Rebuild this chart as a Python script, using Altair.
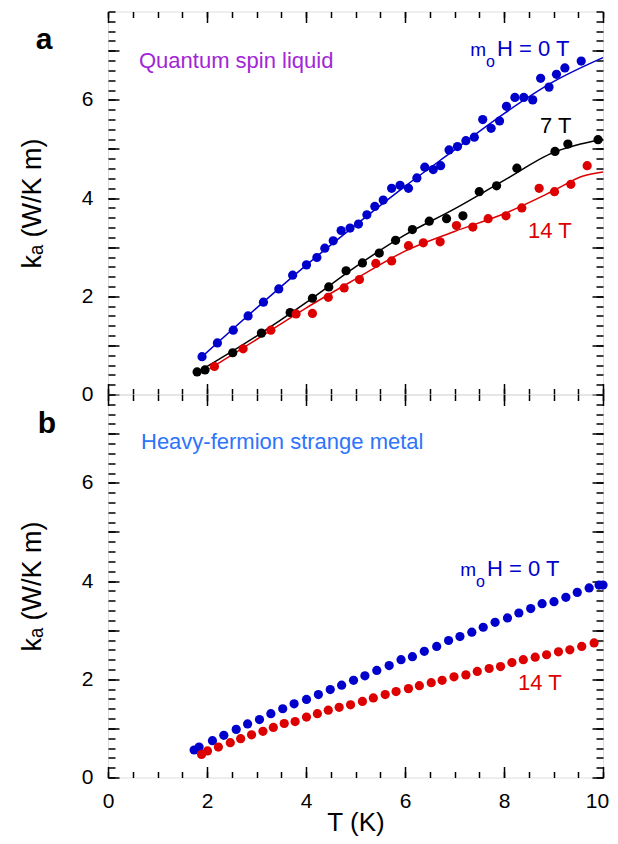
import altair as alt
import pandas as pd

# ---------------- data ----------------
# panel a : quantum spin liquid
QSL_T_0 = [1.90, 2.21, 2.53, 2.83, 3.14, 3.45, 3.73, 4.01, 4.22, 4.38, 4.55, 4.71, 4.89, 5.06, 5.23,
           5.39, 5.56, 5.73, 5.90, 6.07, 6.24, 6.40, 6.57, 6.72, 6.89, 7.06, 7.23, 7.40, 7.57, 7.74,
           7.91, 8.05, 8.22, 8.40, 8.58, 8.74, 8.91, 9.06, 9.23, 9.56]
QSL_K_0 = [0.77, 1.05, 1.31, 1.60, 1.88, 2.15, 2.43, 2.64, 2.79, 2.98, 3.13, 3.34, 3.39, 3.47, 3.66,
           3.83, 3.96, 4.20, 4.26, 4.20, 4.41, 4.63, 4.58, 4.66, 4.98, 5.05, 5.17, 5.24, 5.60, 5.42,
           5.57, 5.87, 6.05, 6.05, 6.00, 6.44, 6.26, 6.52, 6.65, 6.79]
QSL_T_7 = [1.80, 1.96, 2.52, 3.10, 3.68, 4.13, 4.46, 4.81, 5.14, 5.48, 5.81, 6.15, 6.49, 6.84, 7.17,
           7.50, 7.85, 8.26, 9.03, 9.29, 9.90]
QSL_K_7 = [0.46, 0.50, 0.85, 1.25, 1.67, 1.96, 2.19, 2.52, 2.68, 2.88, 3.14, 3.36, 3.53, 3.58, 3.64,
           4.13, 4.25, 4.61, 4.95, 5.10, 5.19]
QSL_T_14 = [2.15, 2.73, 3.29, 3.80, 4.13, 4.45, 4.77, 5.08, 5.41, 5.73, 6.07, 6.37, 6.71, 7.04, 7.37,
            7.68, 8.04, 8.36, 8.71, 9.02, 9.35, 9.68]
QSL_K_14 = [0.57, 0.93, 1.31, 1.64, 1.65, 1.98, 2.17, 2.34, 2.67, 2.72, 3.03, 3.09, 3.11, 3.44, 3.41,
            3.58, 3.64, 3.80, 4.20, 4.13, 4.28, 4.66]
# fitted curves
FIT_T_0 = [1.9, 3, 4, 5, 6, 7, 8, 9, 10]
FIT_K_0 = [0.77, 1.76, 2.63, 3.45, 4.24, 4.98, 5.72, 6.37, 6.86]
FIT_T_7 = [1.8, 3, 4, 5, 6, 7, 8, 9, 10]
FIT_K_7 = [0.45, 1.19, 1.87, 2.60, 3.25, 3.78, 4.36, 4.93, 5.20]
FIT_T_14 = [2.05, 3, 4, 5, 6, 7, 8, 9, 9.6, 10]
FIT_K_14 = [0.52, 1.12, 1.76, 2.35, 2.92, 3.32, 3.68, 4.15, 4.45, 4.53]

# panel b : heavy-fermion strange metal
HF_T_0 = [1.74, 1.84, 2.11, 2.34, 2.59, 2.82, 3.06, 3.29, 3.53, 3.76, 4.01, 4.25, 4.49, 4.72, 4.96,
          5.19, 5.43, 5.68, 5.92, 6.15, 6.39, 6.64, 6.88, 7.11, 7.35, 7.58, 7.82, 8.07, 8.30, 8.54,
          8.77, 9.01, 9.25, 9.48, 9.72, 9.92, 10.0]
HF_K_0 = [0.56, 0.62, 0.75, 0.86, 0.98, 1.09, 1.18, 1.30, 1.40, 1.50, 1.59, 1.69, 1.79, 1.88, 1.98,
          2.07, 2.18, 2.28, 2.40, 2.46, 2.57, 2.67, 2.79, 2.87, 2.96, 3.06, 3.16, 3.25, 3.35, 3.44,
          3.54, 3.58, 3.67, 3.77, 3.86, 3.92, 3.92]
HF_T_14 = [1.89, 2.01, 2.23, 2.47, 2.68, 2.90, 3.13, 3.34, 3.56, 3.78, 4.01, 4.23, 4.45, 4.67, 4.90,
           5.14, 5.36, 5.60, 5.82, 6.07, 6.29, 6.53, 6.75, 6.99, 7.23, 7.46, 7.70, 7.93, 8.16, 8.39,
           8.63, 8.86, 9.10, 9.33, 9.57, 9.82]
HF_K_14 = [0.47, 0.54, 0.62, 0.71, 0.79, 0.87, 0.94, 1.02, 1.10, 1.14, 1.23, 1.30, 1.37, 1.43, 1.48,
           1.55, 1.62, 1.69, 1.75, 1.81, 1.87, 1.93, 1.98, 2.05, 2.09, 2.16, 2.22, 2.26, 2.34, 2.40,
           2.45, 2.50, 2.56, 2.60, 2.67, 2.74]

X_DOMAIN = [0, 10]
Y_DOMAIN = [0, 7.8]
X_LABELS = [0, 2, 4, 6, 8, 10]
X_MAJOR = [0, 2, 4, 6, 8, 10]
X_MINOR = [i * 0.5 for i in range(21)]
Y_LABELS = [0, 2, 4, 6]
Y_MAJOR = [0, 1, 2, 3, 4, 5, 6, 7]
Y_MINOR = [round(i * 0.2, 1) for i in range(40)]

Y_TITLE = "kₐ (W/K m)"
X_TITLE = "T (K)"

# ---------------- style ----------------
FONT = "Liberation Sans"
W, H = 495, 383
BLUE = "#0000cc"
RED = "#dd0000"
BLACK = "#000000"
PURPLE = "#a226d8"
LIGHTBLUE = "#2d74fb"
XS = alt.Scale(domain=X_DOMAIN, nice=False, zero=False)
YS = alt.Scale(domain=Y_DOMAIN, nice=False, zero=False)


def tick_axis(orient, values, size, offset):
    return alt.Axis(orient=orient, values=values, tickSize=size, tickWidth=1.5, tickColor="black",
                    labels=False, domain=False, grid=False, title=None, offset=offset)


def axis_layers(df, bottom):
    enc = []
    if bottom:
        xa = alt.Axis(orient="bottom", values=X_LABELS, ticks=False, tickSize=0, domain=False, grid=False,
                      labelFont=FONT, labelFontSize=21, labelColor="black", labelPadding=13,
                      labelFlush=False, labelOverlap=False,
                      labelOffset={"condition": {"test": "datum.value == 10", "value": -6}, "value": 0},
                      title=X_TITLE, titleFont=FONT, titleFontSize=26, titleFontWeight="normal",
                      titleColor="black", titlePadding=-2)
    else:
        xa = None
    ya = alt.Axis(orient="left", values=Y_LABELS, ticks=False, tickSize=0, domain=False, grid=False,
                  labelFont=FONT, labelFontSize=21, labelColor="black", labelPadding=15,
                  labelFlush=False, labelOverlap=False,
                  title=Y_TITLE, titleFont=FONT, titleFontSize=27, titleFontWeight="normal",
                  titleColor="black", titlePadding=35)
    enc.append((xa, ya))
    enc.append((tick_axis("top", X_MAJOR, 11, -H), tick_axis("right", Y_MAJOR, 11, -W)))
    enc.append((tick_axis("top", X_MINOR, 6, -H), tick_axis("right", Y_MINOR, 7, -W)))
    enc.append((tick_axis("bottom", X_MAJOR, 11, -H), tick_axis("left", Y_MAJOR, 11, -W)))
    enc.append((tick_axis("bottom", X_MINOR, 6, -H), tick_axis("left", Y_MINOR, 7, -W)))
    out = []
    for xa, ya in enc:
        out.append(alt.Chart(df).mark_point(opacity=0, size=1).encode(
            x=alt.X("T:Q", scale=XS, axis=xa),
            y=alt.Y("K:Q", scale=YS, axis=ya)))
    return out


def pts(T, K, color):
    df = pd.DataFrame({"T": T, "K": K})
    return alt.Chart(df).mark_circle(size=85, opacity=1, color=color, clip=False).encode(
        x=alt.X("T:Q", scale=XS, axis=None), y=alt.Y("K:Q", scale=YS, axis=None))


def line(T, K, color):
    df = pd.DataFrame({"T": T, "K": K})
    return alt.Chart(df).mark_line(interpolate="monotone", strokeWidth=1.5, color=color).encode(
        x=alt.X("T:Q", scale=XS, axis=None), y=alt.Y("K:Q", scale=YS, axis=None))


def txt(s, x, y, color, size, align="left", weight="normal"):
    return alt.Chart(pd.DataFrame({"s": [s]})).mark_text(
        align=align, baseline="alphabetic", font=FONT, fontSize=size, color=color,
        fontWeight=weight).encode(x=alt.value(x), y=alt.value(y), text="s:N")


def field_label(x_h, y_h, color):
    # "mₒH = 0 T" built from three pieces
    return [txt("m", x_h - 11, y_h, color, 19, align="right"),
            txt("o", x_h - 6.5, y_h + 11.5, color, 16, align="center"),
            txt("H = 0 T", x_h, y_h, color, 22)]


df_a = pd.DataFrame({"T": QSL_T_0, "K": QSL_K_0})
panel_a = alt.layer(
    *axis_layers(df_a, bottom=False),
    line(FIT_T_0, FIT_K_0, BLUE), line(FIT_T_7, FIT_K_7, BLACK), line(FIT_T_14, FIT_K_14, RED),
    pts(QSL_T_0, QSL_K_0, BLUE), pts(QSL_T_7, QSL_K_7, BLACK), pts(QSL_T_14, QSL_K_14, RED),
    txt("a", -64, 37, BLACK, 30, align="center", weight="bold"),
    txt("Quantum spin liquid", 31, 56, PURPLE, 22),
    *field_label(389, 44, BLUE),
    txt("7 T", 432, 121, BLACK, 22),
    txt("14 T", 420, 226, RED, 22),
).resolve_axis(x="independent", y="independent").properties(width=W, height=H)

df_b = pd.DataFrame({"T": HF_T_0, "K": HF_K_0})
panel_b = alt.layer(
    *axis_layers(df_b, bottom=True),
    pts(HF_T_0, HF_K_0, BLUE), pts(HF_T_14, HF_K_14, RED),
    txt("b", -61, 38, BLACK, 30, align="center", weight="bold"),
    txt("Heavy-fermion strange metal", 33, 54, LIGHTBLUE, 22),
    *field_label(379, 181, BLUE),
    txt("14 T", 410, 295, RED, 22),
).resolve_axis(x="independent", y="independent").properties(width=W, height=H)

chart = alt.vconcat(panel_a, panel_b, spacing=0, bounds="flush").configure_view(
    stroke="black", strokeWidth=1.5
).configure(background="white").properties(
    padding={"left": 9, "top": 1.5, "right": 0, "bottom": 0}
)

chart.save("out.html", embed_options={"renderer": "svg", "actions": False})
